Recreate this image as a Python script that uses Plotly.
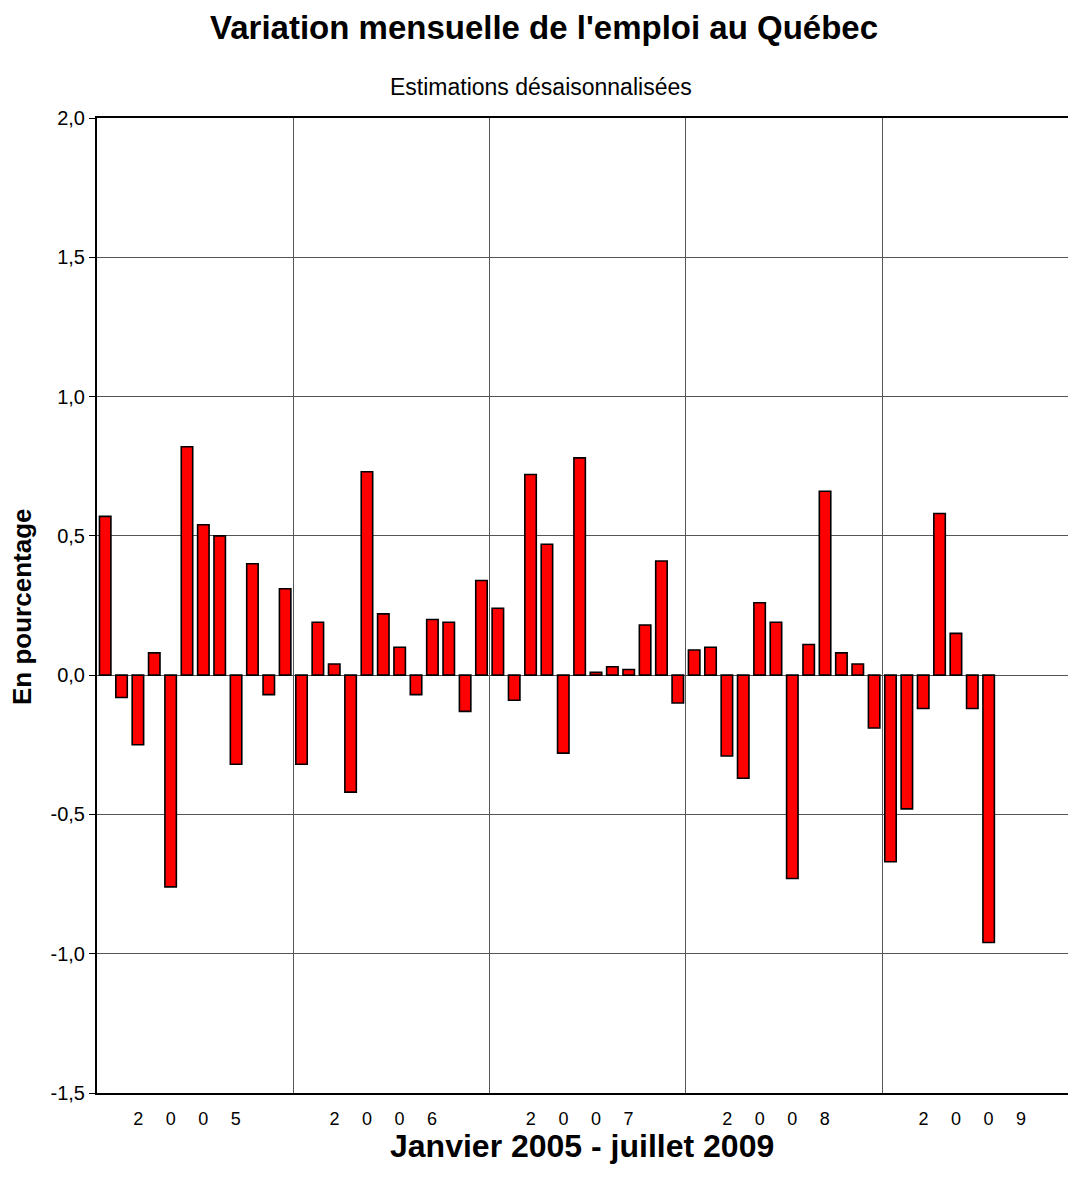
import plotly.graph_objects as go

# Monthly employment change in Québec, Jan 2005 - Jul 2009 (%)
months = list(range(55))
values = [
    0.57, -0.08, -0.25, 0.08, -0.76, 0.82, 0.54, 0.50, -0.32, 0.40, -0.07, 0.31,   # 2005
    -0.32, 0.19, 0.04, -0.42, 0.73, 0.22, 0.10, -0.07, 0.20, 0.19, -0.13, 0.34,   # 2006
    0.24, -0.09, 0.72, 0.47, -0.28, 0.78, 0.01, 0.03, 0.02, 0.18, 0.41, -0.10,    # 2007
    0.09, 0.10, -0.29, -0.37, 0.26, 0.19, -0.73, 0.11, 0.66, 0.08, 0.04, -0.19,   # 2008
    -0.67, -0.48, -0.12, 0.58, 0.15, -0.12, -0.96,                                # 2009
]
year_labels = ["2005", "2006", "2007", "2008", "2009"]
year_label_pos = [5, 17, 29, 41, 53]
year_bounds = [11.5, 23.5, 35.5, 47.5]
y_tickvals = [-1.5, -1.0, -0.5, 0.0, 0.5, 1.0, 1.5, 2.0]
y_ticktext = ["-1,5", "-1,0", "-0,5", "0,0", "0,5", "1,0", "1,5", "2,0"]

SEP = "\u2003\u2005"
ticktext = [SEP.join(list(y)) for y in year_labels]

FONT = "Liberation Sans, Arial, sans-serif"
GRID = "#555555"

fig = go.Figure(
    go.Bar(
        x=months,
        y=values,
        width=0.7,
        marker=dict(color="#ff0000", line=dict(color="#000000", width=1.6)),
        hoverinfo="y",
    )
)

fig.update_layout(
    width=1068,
    height=1189,
    margin=dict(l=97, r=0, t=118, b=96),
    paper_bgcolor="white",
    plot_bgcolor="white",
    showlegend=False,
    font=dict(family=FONT, color="black"),
    xaxis=dict(
        range=[-0.5, 58.85],
        tickmode="array",
        tickvals=year_label_pos,
        ticktext=ticktext,
        ticks="",
        showgrid=False,
        zeroline=False,
        showline=True,
        linecolor="black",
        linewidth=2,
        mirror=True,
        tickfont=dict(size=18, family=FONT, color="black"),
        ticklabelstandoff=8,
        minor=dict(
            tickmode="array",
            tickvals=year_bounds,
            showgrid=True,
            gridcolor=GRID,
            gridwidth=1,
            ticks="",
        ),
        fixedrange=True,
    ),
    yaxis=dict(
        range=[-1.5, 2.0],
        tickmode="array",
        tickvals=y_tickvals,
        ticktext=y_ticktext,
        ticks="outside",
        ticklen=6,
        tickcolor="black",
        showgrid=True,
        gridcolor=GRID,
        gridwidth=1,
        zeroline=True,
        zerolinecolor=GRID,
        zerolinewidth=1,
        showline=True,
        linecolor="black",
        linewidth=2,
        tickfont=dict(size=20, family=FONT, color="black"),
        fixedrange=True,
    ),
    annotations=[
        dict(
            text="<b>Variation mensuelle de l'emploi au Québec</b>",
            xref="paper", yref="paper", x=0.46, y=1.0933,
            xanchor="center", yanchor="middle", showarrow=False,
            font=dict(size=33, family=FONT, color="black"),
        ),
        dict(
            text="Estimations désaisonnalisées",
            xref="paper", yref="paper", x=0.457, y=1.0318,
            xanchor="center", yanchor="middle", showarrow=False,
            font=dict(size=23, family=FONT, color="black"),
        ),
        dict(
            text="<b>Janvier 2005 - juillet 2009</b>",
            xref="paper", yref="paper", x=0.499, y=-0.0544,
            xanchor="center", yanchor="middle", showarrow=False,
            font=dict(size=32, family=FONT, color="black"),
        ),
        dict(
            text="<b>En pourcentage</b>",
            xref="paper", yref="paper", x=-0.0772, y=0.4985,
            xanchor="center", yanchor="middle", showarrow=False,
            textangle=-90,
            font=dict(size=26, family=FONT, color="black"),
        ),
    ],
)

fig.write_html(
    "out.html",
    config={"displayModeBar": False},
    post_script="document.body.style.margin='0';document.body.style.overflow='hidden';",
)
